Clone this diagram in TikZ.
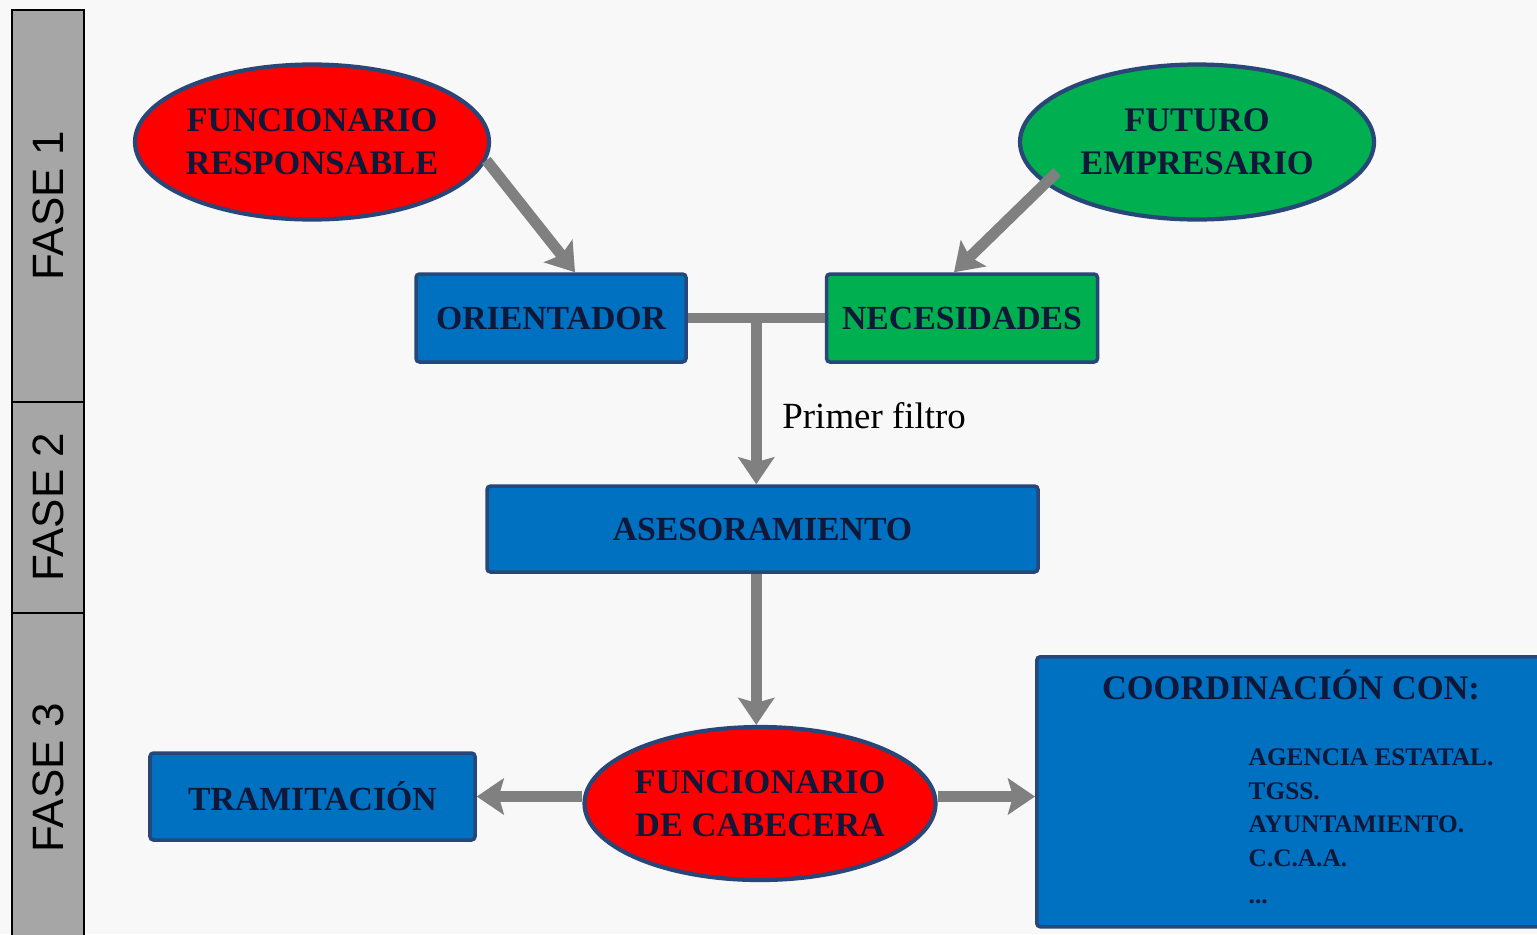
\documentclass[tikz,border=0pt]{standalone}
\usepackage{fontspec}
\setmainfont{Liberation Serif}
\setsansfont{Liberation Sans}
\usepackage{tikz}
\usetikzlibrary{shapes.geometric, arrows.meta, positioning, calc}
\definecolor{boxblue}{RGB}{0, 112, 192}
\definecolor{boxgreen}{RGB}{0, 176, 80}
\definecolor{boxred}{RGB}{255, 0, 0}
\definecolor{edgeblue}{RGB}{40, 70, 120}
\definecolor{inkblue}{RGB}{16, 24, 58}
\definecolor{arrowgray}{RGB}{128, 128, 128}
\definecolor{fasegray}{RGB}{166, 166, 166}
\definecolor{paper}{RGB}{248, 248, 248}

\begin{document}
\begin{tikzpicture}[
    node distance=0.6cm and 1.37cm,
    fasebox/.style={rectangle, draw=black, line width=0.6pt, fill=fasegray, rotate=90, minimum height=0.72cm, font=\sffamily\fontsize{12.5}{14}\selectfont},
    bluebox/.style={rectangle, draw=edgeblue, fill=boxblue, line width=1pt, rounded corners=1pt, text=inkblue, font=\bfseries\fontsize{9.6}{12}\selectfont},
    greenbox/.style={bluebox, fill=boxgreen},
    actor/.style={ellipse, draw=edgeblue, line width=1.2pt, inner xsep=-0.03cm, minimum width=3.54cm, minimum height=1.55cm, align=center, text=inkblue, font=\bfseries\fontsize{9.8}{12.2}\selectfont},
    arrow/.style={-{Stealth[width=0.36cm, length=0.27cm, inset=0.05cm]}, line width=0.11cm, arrowgray},
    link/.style={line width=0.1cm, arrowgray}
]
    \useasboundingbox (0,0) rectangle (15.37,9.34);
    \fill[paper] (0,0) rectangle (15.37,9.34);

    % Phases
    \node (fase1) [fasebox, minimum width=3.92cm] at (0.48,7.28) {FASE 1};
    \node (fase2) [fasebox, minimum width=2.11cm] at (0.48,4.265) {FASE 2};
    \node (fase3) [fasebox, minimum width=3.30cm] at (0.48,1.56) {FASE 3};

    % Phase 1
    \node (funres) [actor, fill=boxred] at (3.12,7.92) {FUNCIONARIO\\RESPONSABLE};
    \node (futuro) [actor, fill=boxgreen] at (11.97,7.92) {FUTURO\\EMPRESARIO};
    \node (orient) [bluebox, minimum width=2.70cm, minimum height=0.88cm] at (5.51,6.16) {ORIENTADOR};
    \node (nec) [greenbox, minimum width=2.71cm, minimum height=0.88cm, right=1.37cm of orient] {NECESIDADES};

    % Phase 2
    \node (ases) [bluebox, minimum width=5.51cm, minimum height=0.86cm] at (7.625,4.05) {ASESORAMIENTO};

    % Phase 3
    \node (funcab) [actor, fill=boxred, minimum width=3.51cm, minimum height=1.53cm] at (7.60,1.305) {FUNCIONARIO\\DE CABECERA};
    \node (tram) [bluebox, minimum width=3.25cm, minimum height=0.87cm] at (3.125,1.375) {TRAMITACIÓN};
    \node (coord) [bluebox, anchor=north west, minimum width=5.2cm, minimum height=2.70cm] at (10.35,2.79) {};
    \node (coordtit) [text=inkblue, font=\bfseries\fontsize{9.8}{12}\selectfont] at (12.91,2.49) {COORDINACIÓN CON:};
    \node (coordlist) [anchor=north west, inner sep=0pt, align=left, text=inkblue, font=\bfseries\fontsize{7.2}{9.6}\selectfont] at (12.48,1.86) {AGENCIA ESTATAL.\\TGSS.\\AYUNTAMIENTO.\\C.C.A.A.\\[1pt]...};

    % Connections
    \coordinate (junc) at ($(orient.east)!0.5!(nec.west)$);
    \draw [arrow] (funres.-6) -- ([xshift=0.24cm]orient.north);
    \draw [arrow] ($(futuro.center)+(-1.40,-0.30)$) -- ([xshift=-0.08cm]nec.north);
    \draw [link] (orient.east) -- (nec.west);
    \draw [arrow] (junc) -- (junc |- ases.north);
    \node (filtro) [anchor=west, font=\fontsize{10.5}{12}\selectfont] at (7.70,5.18) {Primer filtro};
    \draw [arrow] (ases.south -| junc) -- (funcab.north -| junc);
    \draw [arrow] (funcab.west |- tram.east) -- (tram.east);
    \draw [arrow] (funcab.east |- tram.east) -- (coord.west |- tram.east);
\end{tikzpicture}
\end{document}
